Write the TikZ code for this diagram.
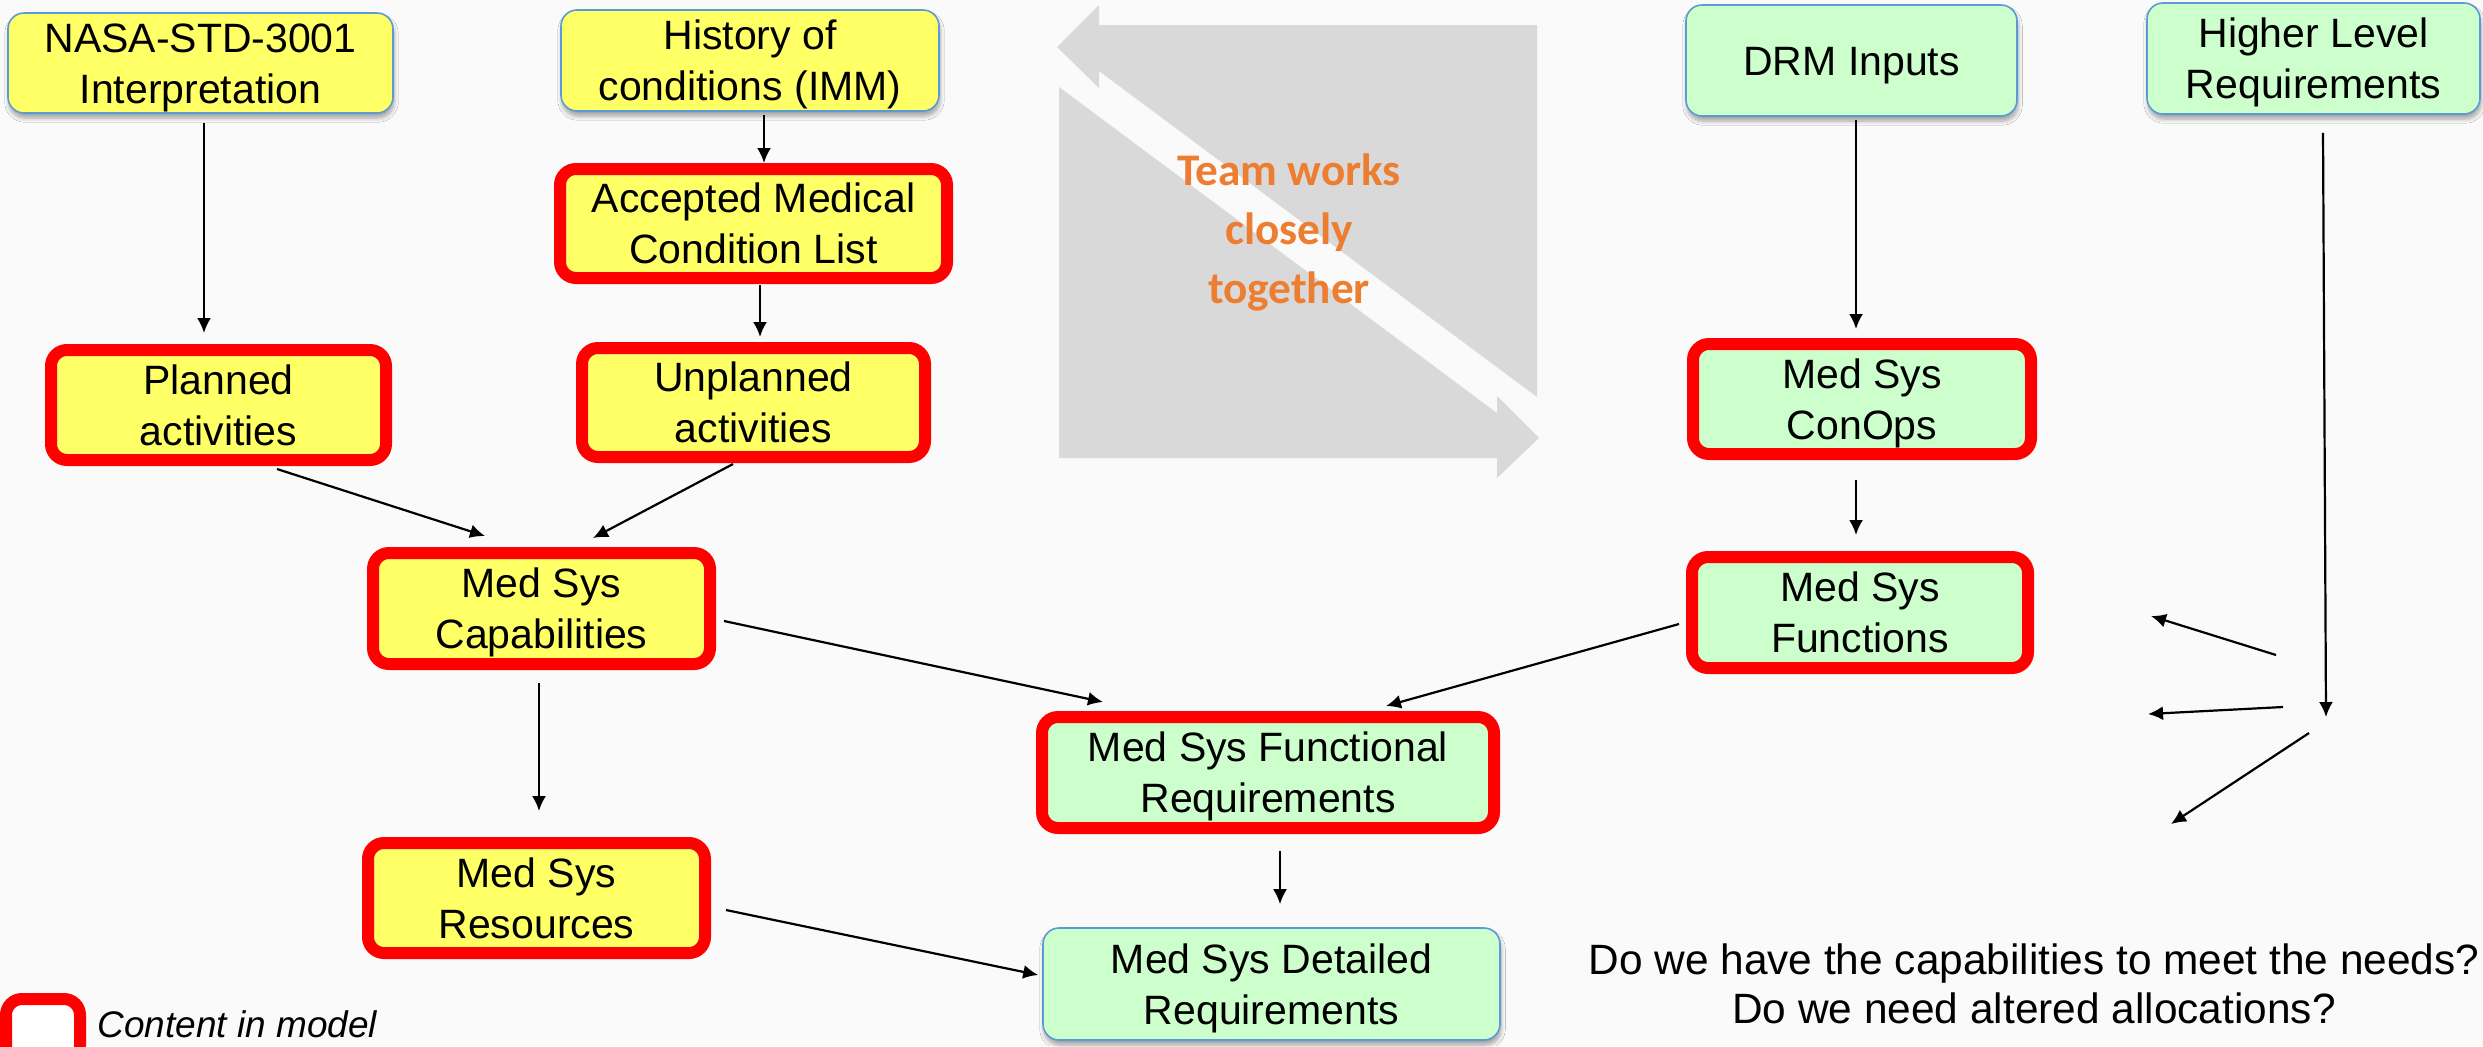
\documentclass[tikz,border=0pt]{standalone}
\usepackage{fontspec}
\setmainfont{Liberation Sans}
\newfontfamily\teamfont{Carlito}
\usetikzlibrary{arrows.meta,shadows,shadows.blur}

\definecolor{bgcol}{HTML}{FAFAFA}
\definecolor{boxyellow}{HTML}{FFFF66}
\definecolor{boxgreen}{HTML}{CCFFCC}
\definecolor{boxblue}{HTML}{5B9BD5}
\definecolor{modelred}{HTML}{FF0000}
\definecolor{bandgray}{HTML}{D9D9D9}
\definecolor{teamorange}{HTML}{ED7D31}

\begin{document}
\begin{tikzpicture}[x=0.5pt,y=-0.5pt,
  txt/.style={font=\fontsize{20.5}{25.5}\selectfont, align=center, text=black},
  % two-line labels: first-line ascent plus one baseline step, fixed descent
  box/.style={txt, rectangle, rounded corners=8pt, inner sep=0pt,
    text height=44.3pt, text depth=4.1pt},
  oneline/.style={text height=18.8pt},
  plainbox/.style={box, draw=boxblue, line width=0.8pt,
    blur shadow={shadow xshift=0.5pt, shadow yshift=-2.5pt, shadow blur steps=6, shadow opacity=35}},
  modelbox/.style={box, draw=modelred, line width=6pt},
  yel/.style={fill=boxyellow},
  grn/.style={fill=boxgreen},
  arr/.style={draw=black, line width=1.1pt, -{Latex[length=7.5pt,width=7pt]}},
  band/.style={fill=bandgray, draw=none},
]

% canvas
\useasboundingbox (0,0) rectangle (2483,1046);
\fill[bgcol] (0,0) rectangle (2483,1046);

% the two grey counter-running arrows in the middle
\path[band] (1057,47) -- (1099,5) -- (1099,25) -- (1537,25) -- (1537,397)
  -- (1099,71) -- (1099,88) -- cycle;
\path[band] (1059,87) -- (1497,413) -- (1497,396) -- (1539,438) -- (1497,478)
  -- (1497,458) -- (1059,458) -- cycle;
\node[text=teamorange, font=\teamfont\bfseries\fontsize{22.6}{29.5}\selectfont,
  align=center, inner sep=0pt] (team) at (1289,232) {Team works\\closely\\together};

% left column (yellow)
\node[plainbox, yel, minimum width=192.5pt, minimum height=50pt] (nasa) at (200.5,63)
  {NASA-STD-3001\\Interpretation};
\node[plainbox, yel, minimum width=189pt, minimum height=50.5pt] (hist) at (750,60.5)
  {History of\\conditions (IMM)};
\node[modelbox, yel, minimum width=193.5pt, minimum height=54.5pt] (acml) at (753.5,223.5)
  {Accepted Medical\\Condition List};
\node[modelbox, yel, minimum width=167.5pt, minimum height=55pt] (plan) at (218.5,405)
  {Planned\\activities};
\node[modelbox, yel, minimum width=171.5pt, minimum height=54.5pt] (unpl) at (753.5,402.5)
  {Unplanned\\activities};
\node[modelbox, yel, minimum width=168.5pt, minimum height=55.5pt] (cap) at (541.5,608.5)
  {Med Sys\\Capabilities};
\node[modelbox, yel, minimum width=168.5pt, minimum height=55pt] (res) at (536.5,898)
  {Med Sys\\Resources};

% requirements (green)
\node[modelbox, grn, minimum width=226pt, minimum height=55.5pt] (freq) at (1268,772.5)
  {Med Sys Functional\\Requirements};
\node[plainbox, grn, minimum width=228.5pt, minimum height=56pt] (det) at (1271.5,984)
  {Med Sys Detailed\\Requirements};

% right column (green)
\node[plainbox, grn, oneline, minimum width=165.5pt, minimum height=55.5pt] (drm) at (1851.5,60.5)
  {DRM Inputs};
\node[plainbox, grn, minimum width=166.5pt, minimum height=55.5pt] (hlr) at (2313.5,58.5)
  {Higher Level\\Requirements};
\node[modelbox, grn, minimum width=169pt, minimum height=55pt] (conops) at (1862,399)
  {Med Sys\\ConOps};
\node[modelbox, grn, minimum width=168pt, minimum height=55.5pt] (func) at (1860,612.5)
  {Med Sys\\Functions};

% questions
\node[font=\fontsize{21.2}{24.5}\selectfont, align=center, inner sep=0pt] (quest) at (2034,984)
  {Do we have the capabilities to meet the needs?\\Do we need altered allocations?};

% legend
\node[modelbox, fill=white, text height=0pt, text depth=0pt,
  minimum width=37pt, minimum height=31pt] (legbox) at (43,1030) {};
\node[anchor=west, font=\itshape\fontsize{18.5}{22}\selectfont, inner sep=0pt] (legtxt)
  at (97,1024) {Content in model};

% connectors
\draw[arr] ([shift={(3.5,9)}]nasa.south) -- ([shift={(-14.5,-11)}]plan.north);
\draw[arr] ([shift={(14,3)}]hist.south) -- ([shift={(10.5,0)}]acml.north);
\draw[arr] ([shift={(6.5,1)}]acml.south) -- ([shift={(6.5,-5)}]unpl.north);
\draw[arr] ([shift={(58.5,3)}]plan.south) -- ([shift={(-56.5,-11)}]cap.north);
\draw[arr] ([shift={(-20.5,1)}]unpl.south) -- ([shift={(51.5,-9)}]cap.north);
\draw[arr] ([shift={(-2.5,13)}]cap.south) -- ([shift={(2.5,-26)}]res.north);
\draw[arr] ([shift={(8,12.5)}]cap.east) -- ([shift={(-165,-9)}]freq.north);
\draw[arr] ([shift={(-7,11.5)}]func.west) -- ([shift={(118,-5)}]freq.north);
\draw[arr] ([shift={(15,12)}]res.east) -- ([shift={(-4,-9)}]det.west);
\draw[arr] ([shift={(12,17)}]freq.south) -- ([shift={(8.5,-23)}]det.north);
\draw[arr] ([shift={(4.5,3)}]drm.south) -- ([shift={(-6,-9)}]conops.north);
\draw[arr] ([shift={(-6,20)}]conops.south) -- ([shift={(-4,-16)}]func.north);

% allocation fan on the right
\coordinate (hlrend) at (2326,717);
\coordinate (fanAfrom) at (2276,655);
\coordinate (fanAto) at (2151,616);
\coordinate (fanBfrom) at (2283,707);
\coordinate (fanBto) at (2148,714);
\coordinate (fanCfrom) at (2309,733);
\coordinate (fanCto) at (2171,824);
\draw[arr] ([shift={(9.5,18)}]hlr.south) -- (hlrend);
\draw[arr] (fanAfrom) -- (fanAto);
\draw[arr] (fanBfrom) -- (fanBto);
\draw[arr] (fanCfrom) -- (fanCto);

\end{tikzpicture}
\end{document}
